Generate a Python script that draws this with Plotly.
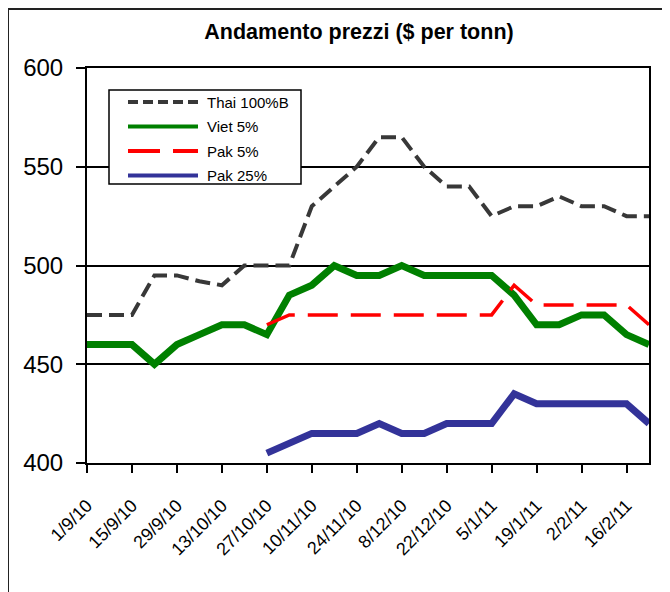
import plotly.graph_objects as go

dates = ["1/9/10", "8/9/10", "15/9/10", "22/9/10", "29/9/10", "6/10/10", "13/10/10",
         "20/10/10", "27/10/10", "3/11/10", "10/11/10", "17/11/10", "24/11/10",
         "1/12/10", "8/12/10", "15/12/10", "22/12/10", "29/12/10", "5/1/11",
         "12/1/11", "19/1/11", "26/1/11", "2/2/11", "9/2/11", "16/2/11", "23/2/11"]

thai_100b = [475, 475, 475, 495, 495, 492, 490, 500, 500, 500, 530, 540, 550,
             565, 565, 550, 540, 540, 525, 530, 530, 535, 530, 530, 525, 525]
viet_5 = [460, 460, 460, 450, 460, 465, 470, 470, 465, 485, 490, 500, 495,
          495, 500, 495, 495, 495, 495, 485, 470, 470, 475, 475, 465, 460]
pak_5 = [None] * 8 + [470, 475, 475, 475, 475, 475, 475, 475, 475, 475, 475,
                      490, 480, 480, 480, 480, 480, 470]
pak_25 = [None] * 8 + [405, 410, 415, 415, 415, 420, 415, 415, 420, 420, 420,
                       435, 430, 430, 430, 430, 430, 420]

series_names = ["Thai 100%B", "Viet 5%", "Pak 5%", "Pak 25%"]
series_values = [thai_100b, viet_5, pak_5, pak_25]
series_colors = ["#383838", "#008000", "#FF0000", "#333399"]
series_widths = [4, 7, 3.5, 7]
series_dash = ["15px,7px", "solid", "30px,13px", "solid"]
legend_dash = ["10px,5px", "solid", "32px,13px", "solid"]

tick_labels = dates[::2]
y_ticks = [400, 450, 500, 550, 600]

FONT = "Arial, Liberation Sans, sans-serif"

# figure geometry (page body has an 8px margin)
FW, FH = 662, 584
L, T, W, H = 79, 60, 562, 395


def px_x(fx):
    return (fx - L) / W


def px_y(fy):
    return (T + H - fy) / H


fig = go.Figure()
for name, vals, col, wid, dsh in zip(series_names, series_values, series_colors,
                                     series_widths, series_dash):
    fig.add_trace(go.Scatter(x=dates, y=vals, mode="lines", name=name,
                             line=dict(color=col, width=wid, dash=dsh)))

# outer chart frame (left and top edges visible)
fig.add_shape(type="rect", xref="paper", yref="paper",
              x0=px_x(0), x1=px_x(FW + 20), y0=px_y(FH + 20), y1=px_y(1),
              line=dict(color="#222222", width=2), layer="below")

# legend box
fig.add_shape(type="rect", xref="paper", yref="paper",
              x0=px_x(101), x1=px_x(293), y0=px_y(176), y1=px_y(82),
              line=dict(color="black", width=1.5), fillcolor="white", layer="above")
for k, (name, col, dsh) in enumerate(zip(series_names, series_colors, legend_dash)):
    fy = 94 + 24.5 * k
    fig.add_shape(type="line", xref="paper", yref="paper",
                  x0=px_x(120), x1=px_x(190), y0=px_y(fy), y1=px_y(fy),
                  line=dict(color=col, width=4, dash=dsh), layer="above")
    fig.add_annotation(xref="paper", yref="paper", x=px_x(197), y=px_y(fy),
                       text=name, showarrow=False, xanchor="left", yanchor="middle",
                       font=dict(size=15, family=FONT, color="black"))

fig.update_layout(
    width=FW, height=FH,
    margin=dict(l=L, r=FW - L - W, t=T, b=FH - T - H),
    paper_bgcolor="white", plot_bgcolor="white",
    font=dict(family=FONT, color="black"),
    title=dict(text="<b>Andamento prezzi ($ per tonn)</b>",
               font=dict(size=21.5, family=FONT, color="black"),
               x=351 / FW, xref="container", xanchor="center",
               y=1 - 23 / FH, yref="container", yanchor="middle"),
    showlegend=False,
    xaxis=dict(type="category", range=[0, len(dates) - 1],
               tickvals=tick_labels, ticktext=tick_labels,
               tickangle=-45, tickfont=dict(size=18, family=FONT),
               ticks="outside", ticklen=8, tickwidth=1.5, tickcolor="black",
               ticklabelstandoff=15,
               showline=True, linecolor="black", linewidth=2, mirror=True,
               showgrid=False, zeroline=False),
    yaxis=dict(range=[400, 600], tickvals=y_ticks,
               tickfont=dict(size=24, family=FONT),
               ticks="outside", ticklen=9, tickwidth=1.5, tickcolor="black",
               ticklabelstandoff=8,
               showline=True, linecolor="black", linewidth=2, mirror=True,
               showgrid=True, gridcolor="black", gridwidth=1.5, zeroline=False),
)

fig.write_html("out.html")
